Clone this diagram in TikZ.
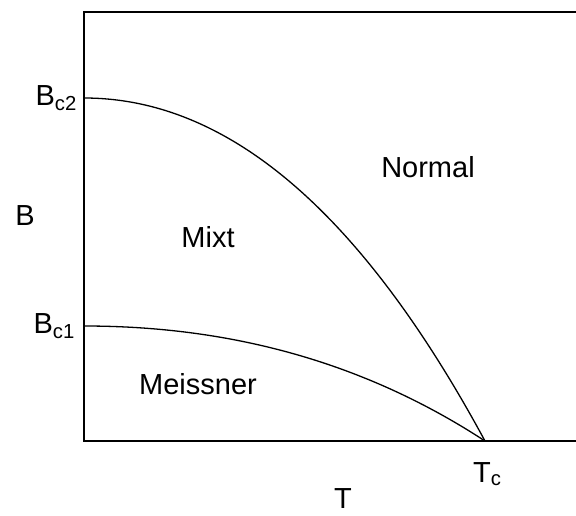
\documentclass[tikz,border=0pt]{standalone}
\usepackage{fontspec}
\setmainfont{Liberation Sans}
\begin{document}
\begin{tikzpicture}[x=1pt,y=-1pt]
\useasboundingbox (0,0) rectangle (576,515);
\tikzset{lbl/.style={inner sep=0pt, font=\fontsize{29}{34}\selectfont}}
\coordinate (topend) at (576,12);
\coordinate (corner) at (84,12);
\coordinate (origin) at (84,441);
\coordinate (botend) at (576,441);
\coordinate (bctwo) at (84,98);
\coordinate (bcone) at (84,326);
\coordinate (tc) at (485,441);
\draw[line width=1.3pt, line join=miter] (topend) -- (corner) -- (origin) -- (botend);
\draw[line width=1.3pt] (bctwo) .. controls (224,98) and (358,206) .. (tc);
\draw[line width=1.3pt] (bcone) .. controls (222,326) and (358,358) .. (tc);
\node[lbl, anchor=base east] (lbctwo) at (77,105) {B\textsubscript{c2}};
\node[lbl, anchor=base east] (lbcone) at (75,333) {B\textsubscript{c1}};
\node[lbl, anchor=base] (lb) at (25,225) {B};
\node[lbl, anchor=base] (lmixt) at (208,247) {Mixt};
\node[lbl, anchor=base] (lnormal) at (428,177) {Normal};
\node[lbl, anchor=base] (lmeissner) at (198,394) {Meissner};
\node[lbl, anchor=base west] (ltc) at (473,482) {T\textsubscript{c}};
\node[lbl, anchor=base] (lt) at (343,508) {T};
\end{tikzpicture}
\end{document}
